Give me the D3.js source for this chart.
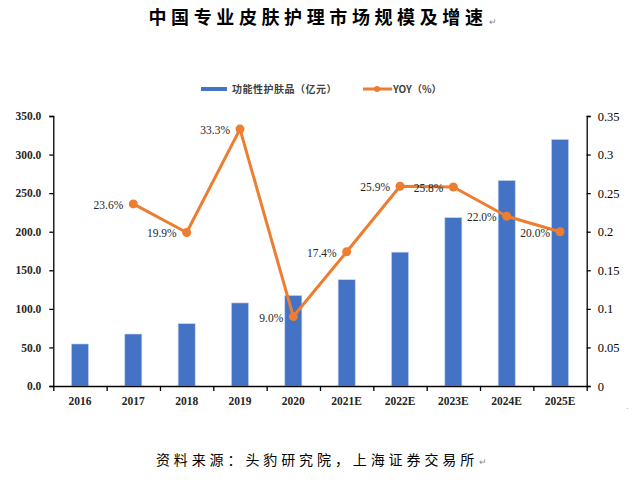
<!DOCTYPE html>
<html>
<head>
<meta charset="utf-8">
<script src="https://cdn.jsdelivr.net/npm/d3@7"></script>
<style>
  body { margin: 0; background: #fff; }
  svg { display: block; }
</style>
</head>
<body>
<div id="chart"></div>
<script>
// data
const years = ["2016", "2017", "2018", "2019", "2020", "2021E", "2022E", "2023E", "2024E", "2025E"];
const sales = [54.5, 67.4, 80.8, 107.7, 117.4, 137.8, 173.5, 218.3, 266.4, 319.6];
const yoy = [null, 0.236, 0.199, 0.333, 0.090, 0.174, 0.259, 0.258, 0.220, 0.200];
const leftTicks = [0, 50, 100, 150, 200, 250, 300, 350];
const rightTicks = [0, 0.05, 0.1, 0.15, 0.2, 0.25, 0.3, 0.35];

const W = 633, H = 492;
const plotL = 53.3, plotR = 586.7, plotT = 116, plotB = 386;
const blue = "#4472C4", orange = "#ED7D31";
const serif = "'Liberation Serif', 'Times New Roman', serif";
const cjk = "'Noto Sans CJK SC', sans-serif";

const svg = d3.select("#chart").append("svg")
  .attr("width", W)
  .attr("height", H);

// title
svg.append("text")
  .attr("x", 318).attr("y", 24)
  .attr("text-anchor", "middle")
  .style("font-family", cjk)
  .style("font-size", "18px")
  .style("font-weight", "bold")
  .style("letter-spacing", "4.6px")
  .attr("fill", "#000")
  .text("中国专业皮肤护理市场规模及增速");
svg.append("text")
  .attr("x", 489).attr("y", 25)
  .style("font-family", serif).style("font-size", "9px")
  .attr("fill", "#888").text("↵");

// scales
const x = d3.scaleBand().domain(years).range([plotL, plotR]).paddingInner(0.68).paddingOuter(0.34);
const xEdge = d3.scaleLinear().domain([0, years.length]).range([plotL, plotR]);
const yL = d3.scaleLinear().domain([0, 350]).range([plotB, plotT]);
const yR = d3.scaleLinear().domain([0, 0.35]).range([plotB, plotT]);

// bars
svg.append("g").selectAll("rect")
  .data(sales).enter()
  .append("rect")
    .attr("x", (d, i) => x(years[i]))
    .attr("y", d => yL(d))
    .attr("width", x.bandwidth())
    .attr("height", d => plotB - yL(d))
    .attr("fill", blue)
    .attr("stroke", "#c9d6ef")
    .attr("stroke-width", 0.6);

// axes
const gL = svg.append("g").attr("transform", `translate(${plotL},0)`)
  .call(d3.axisLeft(yL).tickValues(leftTicks).tickFormat(d3.format(".1f")).tickSize(4).tickPadding(8));
const gR = svg.append("g").attr("transform", `translate(${plotR},0)`)
  .call(d3.axisRight(yR).tickValues(rightTicks).tickFormat(d => String(+d.toFixed(2))).tickSize(4).tickPadding(7));
const gB = svg.append("g").attr("transform", `translate(0,${plotB})`)
  .call(d3.axisBottom(xEdge).tickValues(d3.range(0, years.length + 1)).tickFormat("").tickSize(5).tickSizeOuter(0));
const gLab = svg.append("g").attr("transform", `translate(0,${plotB})`)
  .call(d3.axisBottom(x).tickSize(0).tickPadding(11));
gLab.select(".domain").remove();

[gL, gR, gB].forEach(g => {
  g.selectAll(".domain, line").attr("stroke", "#000").attr("stroke-width", 1.3);
});
gL.selectAll("text").style("font-family", serif).style("font-size", "11.5px").style("font-weight", "bold").attr("fill", "#262626");
gR.selectAll("text").style("font-family", serif).style("font-size", "12.5px").attr("fill", "#000");
gLab.selectAll("text").style("font-family", serif).style("font-size", "11.5px").style("font-weight", "bold").attr("fill", "#262626");

// yoy line
const pts = yoy.map((v, i) => ({ year: years[i], v })).filter(d => d.v !== null);
const cx = d => x(d.year) + x.bandwidth() / 2;
svg.append("path")
  .datum(pts)
  .attr("fill", "none")
  .attr("stroke", orange)
  .attr("stroke-width", 3)
  .attr("stroke-linejoin", "round")
  .attr("d", d3.line().x(cx).y(d => yR(d.v)));
svg.append("g").selectAll("circle")
  .data(pts).enter()
  .append("circle")
    .attr("cx", cx)
    .attr("cy", d => yR(d.v))
    .attr("r", 4.5)
    .attr("fill", orange);
svg.append("g").selectAll("text")
  .data(pts).enter()
  .append("text")
    .attr("x", d => cx(d) - 10)
    .attr("y", d => yR(d.v) + 5)
    .attr("text-anchor", "end")
    .style("font-family", serif)
    .style("font-size", "11.5px")
    .attr("fill", "#262626")
    .text(d => d3.format(".1%")(d.v));

// legend
const lg = svg.append("g");
lg.append("line").attr("x1", 201).attr("x2", 227).attr("y1", 89).attr("y2", 89)
  .attr("stroke", blue).attr("stroke-width", 4);
lg.append("text").attr("x", 232).attr("y", 93)
  .style("font-family", cjk).style("font-size", "10px").style("font-weight", "bold")
  .style("letter-spacing", "0.5px").attr("fill", "#404040")
  .text("功能性护肤品（亿元）");
lg.append("line").attr("x1", 363).attr("x2", 392).attr("y1", 89).attr("y2", 89)
  .attr("stroke", orange).attr("stroke-width", 3);
lg.append("circle").attr("cx", 377).attr("cy", 89).attr("r", 3).attr("fill", orange);
lg.append("text").attr("x", 393).attr("y", 93)
  .style("font-family", cjk).style("font-size", "10px").style("font-weight", "bold")
  .attr("fill", "#404040")
  .text("YOY（%）");

// source
svg.append("text")
  .attr("x", 317).attr("y", 465)
  .attr("text-anchor", "middle")
  .style("font-family", cjk)
  .style("font-size", "14px")
  .style("letter-spacing", "3.9px")
  .attr("fill", "#000")
  .text("资料来源：头豹研究院，上海证券交易所");
svg.append("text")
  .attr("x", 479).attr("y", 465)
  .style("font-family", serif).style("font-size", "9px")
  .attr("fill", "#888").text("↵");
svg.append("text")
  .attr("x", 626).attr("y", 411)
  .style("font-family", serif).style("font-size", "8px")
  .attr("fill", "#888").text("·");
</script>
</body>
</html>
